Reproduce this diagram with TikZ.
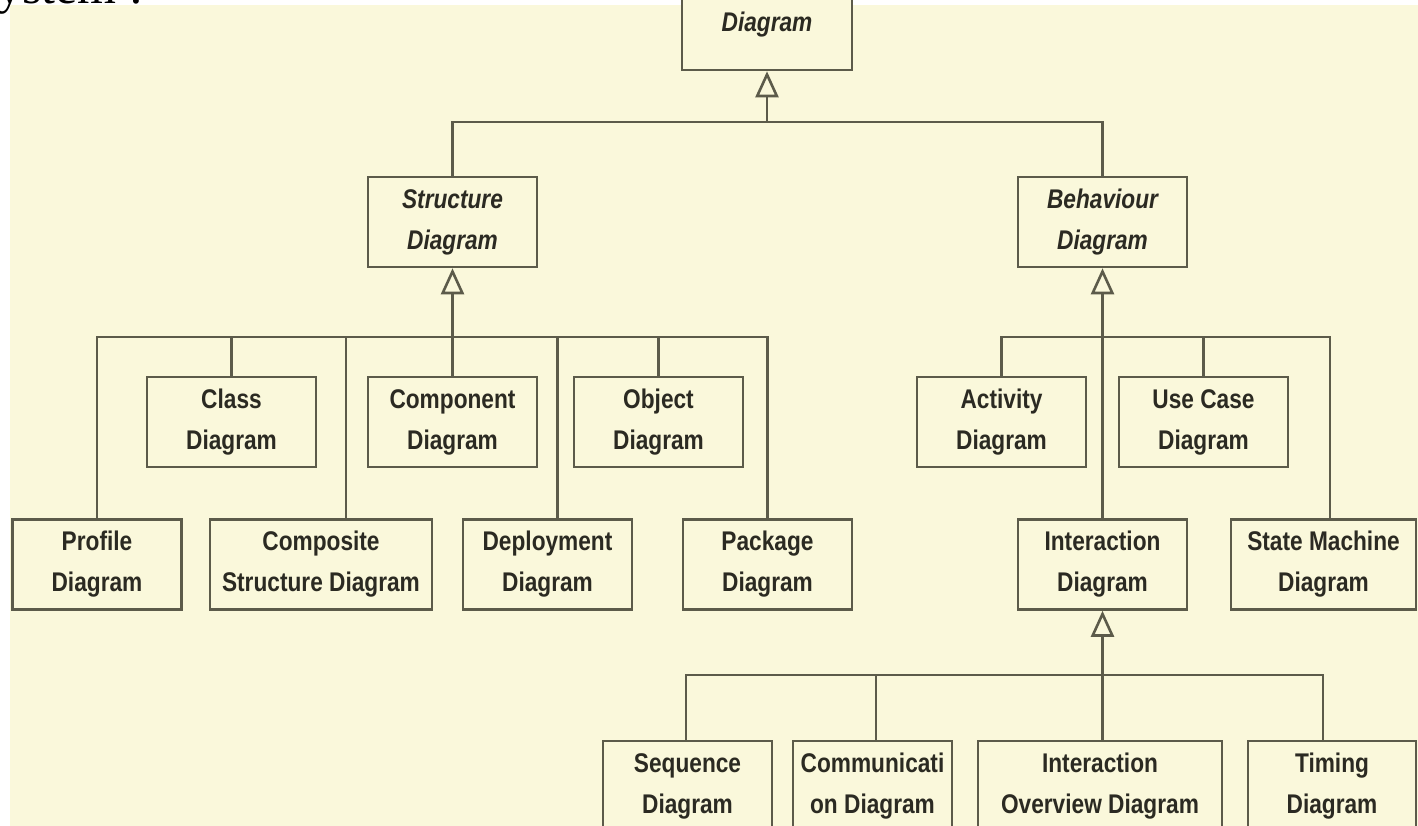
\documentclass[tikz,border=0pt]{standalone}
\usepackage{fontspec}
\setmainfont{Liberation Sans}
\newfontfamily\capfont{Liberation Sans}[FakeStretch=0.84]
\newfontfamily\headfont{Liberation Serif}
\usetikzlibrary{arrows.meta,calc}

\definecolor{cream}{HTML}{FAF8DB}
\definecolor{linec}{HTML}{5C5B4A}
\definecolor{ink}{HTML}{2B2A22}

\tikzset{
  box/.style={draw=linec, line width=2.6pt, fill=cream, minimum width=169pt,
    minimum height=90pt, inner sep=0pt, align=center, text=ink,
    font=\capfont\bfseries\fontsize{27}{41}\selectfont},
  abstract/.style={box, font=\capfont\bfseries\itshape\fontsize{27}{41}\selectfont},
  link/.style={draw=linec, line width=2.6pt},
  gen/.style={link, -{Triangle[open, length=26pt, width=23pt]}},
}

\begin{document}
\begin{tikzpicture}[x=1pt, y=-1pt]
  \useasboundingbox (0,0) rectangle (1418,826);
  \clip (0,0) rectangle (1418,826);

  % heading line running above the panel
  \node[anchor=base west, inner sep=0pt, text=black,
        font=\headfont\fontsize{50}{50}\selectfont] (head) at (-3,4) {ystem :};

  % panel
  \fill[cream] (10,5) rectangle (1418,826);

  % root
  \node[abstract, minimum width=170pt] (root) at (767,25) {Diagram};

  % second level
  \node[abstract] (struct) at (452.5,222) {Structure\\Diagram};
  \node[abstract] (behav) at (1102.5,222) {Behaviour\\Diagram};

  % structure diagrams
  \node[box] (class)     at (231.5,422) {Class\\Diagram};
  \node[box] (component) at (452.5,422) {Component\\Diagram};
  \node[box] (object)    at (658.5,422) {Object\\Diagram};
  \node[box] (profile)   at (97,564.5)  {Profile\\Diagram};
  \node[box, minimum width=222pt] (composite) at (321,564.5) {Composite\\Structure Diagram};
  \node[box] (deploy)    at (547.5,564.5) {Deployment\\Diagram};
  \node[box] (package)   at (767.5,564.5) {Package\\Diagram};

  % behaviour diagrams
  \node[box] (activity)  at (1001.5,422) {Activity\\Diagram};
  \node[box] (usecase)   at (1203.5,422) {Use Case\\Diagram};
  \node[box] (interact)  at (1102.5,564.5) {Interaction\\Diagram};
  \node[box, minimum width=185pt] (state) at (1323.5,564.5) {State Machine\\Diagram};

  % interaction diagrams
  \node[box] (sequence)  at (687.5,786) {Sequence\\Diagram};
  \node[box, minimum width=159pt] (comm) at (872.5,786) {Communicati\\on Diagram};
  \node[box, minimum width=244pt] (overview) at (1100,786) {Interaction\\Overview Diagram};
  \node[box, minimum width=168pt] (timing) at (1332,786) {Timing\\Diagram};

  % generalisation: root
  \coordinate (topbar) at (767,122);
  \draw[gen] (topbar) -- (root.south);
  \draw[link] (struct.north) |- (topbar);
  \draw[link] (behav.north) |- (topbar);

  % generalisation: structure
  \coordinate (sbar) at (452.5,337);
  \draw[gen] (sbar) -- (struct.south);
  \draw[link] (profile.north) |- (sbar);
  \draw[link] (class.north) |- (sbar);
  \draw[link] ([xshift=25pt]composite.north) |- (sbar);
  \draw[link] (component.north) -- (sbar);
  \draw[link] ([xshift=10pt]deploy.north) |- (sbar);
  \draw[link] (object.north) |- (sbar);
  \draw[link] (package.north) |- (sbar);

  % generalisation: behaviour
  \coordinate (bbar) at (1102.5,337);
  \draw[gen] (interact.north) -- (behav.south);
  \draw[link] (activity.north) |- (bbar);
  \draw[link] (usecase.north) |- (bbar);
  \draw[link] ([xshift=6.5pt]state.north) |- (bbar);

  % generalisation: interaction
  \coordinate (ibar) at (1102.5,675);
  \draw[gen] (ibar) -- (interact.south);
  \draw[link] ([xshift=-1.5pt]sequence.north) |- (ibar);
  \draw[link] ([xshift=3.5pt]comm.north) |- (ibar);
  \draw[link] ([xshift=2.5pt]overview.north) |- (ibar);
  \draw[link] ([xshift=-9pt]timing.north) |- (ibar);
\end{tikzpicture}
\end{document}
